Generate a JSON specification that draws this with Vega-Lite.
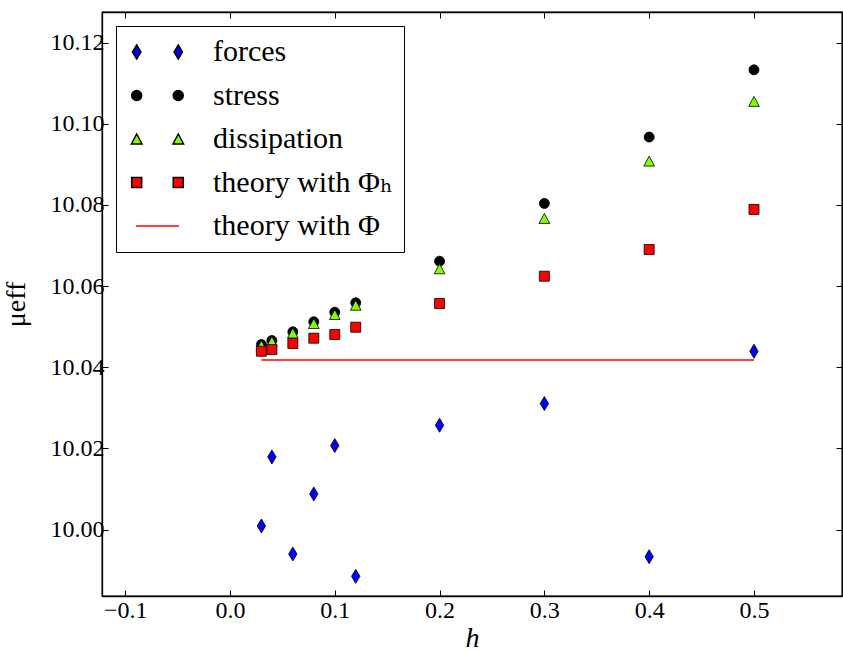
{
  "$schema": "https://vega.github.io/schema/vega-lite/v6.json",
  "width": 740,
  "height": 584,
  "autosize": {"type": "none"},
  "padding": {"left": 102, "top": 12, "right": 1, "bottom": 55},
  "background": "white",
  "config": {
    "view": {"stroke": "black", "strokeWidth": 1.3},
    "axis": {
      "grid": false,
      "domainColor": "black",
      "domainWidth": 1.3,
      "tickColor": "black",
      "tickWidth": 1,
      "tickSize": -6,
      "labelColor": "black",
      "labelFlush": false,
      "labelOverlap": false,
      "titleColor": "black",
      "titleFontWeight": "normal"
    }
  },
  "datasets": {
    "theory": [
      {"h": 0.03, "mu": 10.0418, "series": "theory with Φ"},
      {"h": 0.5, "mu": 10.0418, "series": "theory with Φ"}
    ],
    "points": [
      {"h": 0.03, "mu": 10.00091, "series": "forces"},
      {"h": 0.04, "mu": 10.01792, "series": "forces"},
      {"h": 0.06, "mu": 9.99401, "series": "forces"},
      {"h": 0.08, "mu": 10.0088, "series": "forces"},
      {"h": 0.1, "mu": 10.02071, "series": "forces"},
      {"h": 0.12, "mu": 9.98849, "series": "forces"},
      {"h": 0.2, "mu": 10.02572, "series": "forces"},
      {"h": 0.3, "mu": 10.03107, "series": "forces"},
      {"h": 0.4, "mu": 9.99334, "series": "forces"},
      {"h": 0.5, "mu": 10.04396, "series": "forces"},
      {"h": 0.03, "mu": 10.04561, "series": "stress"},
      {"h": 0.04, "mu": 10.0466, "series": "stress"},
      {"h": 0.06, "mu": 10.04875, "series": "stress"},
      {"h": 0.08, "mu": 10.05121, "series": "stress"},
      {"h": 0.1, "mu": 10.05358, "series": "stress"},
      {"h": 0.12, "mu": 10.0559, "series": "stress"},
      {"h": 0.2, "mu": 10.06615, "series": "stress"},
      {"h": 0.3, "mu": 10.08038, "series": "stress"},
      {"h": 0.4, "mu": 10.09673, "series": "stress"},
      {"h": 0.5, "mu": 10.1133, "series": "stress"},
      {"h": 0.03, "mu": 10.04537, "series": "dissipation"},
      {"h": 0.04, "mu": 10.04635, "series": "dissipation"},
      {"h": 0.06, "mu": 10.04845, "series": "dissipation"},
      {"h": 0.08, "mu": 10.05079, "series": "dissipation"},
      {"h": 0.1, "mu": 10.05301, "series": "dissipation"},
      {"h": 0.12, "mu": 10.0553, "series": "dissipation"},
      {"h": 0.2, "mu": 10.06428, "series": "dissipation"},
      {"h": 0.3, "mu": 10.07668, "series": "dissipation"},
      {"h": 0.4, "mu": 10.09081, "series": "dissipation"},
      {"h": 0.5, "mu": 10.10553, "series": "dissipation"},
      {"h": 0.03, "mu": 10.04396, "series": "theory with Φₕ"},
      {"h": 0.04, "mu": 10.04438, "series": "theory with Φₕ"},
      {"h": 0.06, "mu": 10.04586, "series": "theory with Φₕ"},
      {"h": 0.08, "mu": 10.04717, "series": "theory with Φₕ"},
      {"h": 0.1, "mu": 10.04808, "series": "theory with Φₕ"},
      {"h": 0.12, "mu": 10.04988, "series": "theory with Φₕ"},
      {"h": 0.2, "mu": 10.05572, "series": "theory with Φₕ"},
      {"h": 0.3, "mu": 10.06245, "series": "theory with Φₕ"},
      {"h": 0.4, "mu": 10.06904, "series": "theory with Φₕ"},
      {"h": 0.5, "mu": 10.0789, "series": "theory with Φₕ"}
    ]
  },
  "layer": [
    {
      "data": {"name": "theory"},
      "mark": {"type": "line", "color": "#ff0000", "strokeWidth": 1.5},
      "encoding": {
        "x": {
          "field": "h", "type": "quantitative",
          "scale": {"domain": [-0.1221, 0.584], "nice": false, "zero": false},
          "axis": {"orient": "bottom", "values": [-0.1, 0, 0.1, 0.2, 0.3, 0.4, 0.5], "format": ".1f", "labelPadding": 8, "labelFont": "Liberation Serif, Times New Roman, DejaVu Serif, serif", "labelFontSize": 24, "title": "h", "titleFont": "Liberation Serif, Times New Roman, DejaVu Serif, serif", "titleFontStyle": "italic", "titleFontSize": 28, "titlePadding": 2}
        },
        "y": {
          "field": "mu", "type": "quantitative",
          "scale": {"domain": [9.98365, 10.12755], "nice": false, "zero": false},
          "axis": {"orient": "left", "values": [10, 10.02, 10.04, 10.06, 10.08, 10.1, 10.12], "format": ".2f", "labelPadding": 4, "labelFont": "Liberation Serif, Times New Roman, DejaVu Serif, serif", "labelFontSize": 24, "title": "μeff", "titleFont": "Liberation Serif, Times New Roman, DejaVu Serif, serif", "titleFontSize": 28, "titlePadding": 20}
        }
      }
    },
    {
      "data": {"name": "points"},
      "mark": {"type": "point", "filled": true, "stroke": "black", "strokeWidth": 0.8, "size": 196, "opacity": 1},
      "encoding": {
        "x": {
          "field": "h", "type": "quantitative",
          "axis": {"orient": "top", "values": [-0.1, 0, 0.1, 0.2, 0.3, 0.4, 0.5], "labels": false, "title": null}
        },
        "y": {
          "field": "mu", "type": "quantitative",
          "axis": {"orient": "right", "values": [10, 10.02, 10.04, 10.06, 10.08, 10.1, 10.12], "labels": false, "title": null}
        },
        "color": {
          "field": "series", "type": "nominal",
          "scale": {"domain": ["forces", "stress", "dissipation", "theory with Φₕ", "theory with Φ"], "range": ["#0000ff", "#000000", "#7fff00", "#ff0000", "#ff0000"]},
          "legend": null
        },
        "shape": {
          "field": "series", "type": "nominal",
          "scale": {"domain": ["forces", "stress", "dissipation", "theory with Φₕ", "theory with Φ"], "range": ["M0,-1L0.6,0L0,1L-0.6,0Z", "M0.714,0A0.714,0.714,0,1,1,-0.714,0A0.714,0.714,0,1,1,0.714,0Z", "M0,-0.714L0.76,0.714L-0.76,0.714Z", "M-0.714,-0.714L0.714,-0.714L0.714,0.714L-0.714,0.714Z", "stroke"]},
          "legend": null
        }
      }
    },
    {
      "data": {"name": "points"},
      "mark": {
        "type": "point", "filled": true, "size": 196, "opacity": 0,
        "stroke": {"expr": "(datum.series || datum.value) === 'theory with Φ' ? '#ff0000' : '#000000'"},
        "strokeWidth": {"expr": "(datum.series || datum.value) === 'theory with Φ' ? 1.5 : 0.8"}
      },
      "encoding": {
        "x": {"field": "h", "type": "quantitative", "axis": null},
        "y": {"field": "mu", "type": "quantitative", "axis": null},
        "color": {
          "field": "series", "type": "nominal",
          "scale": {"domain": ["forces", "stress", "dissipation", "theory with Φₕ", "theory with Φ"], "range": ["#0000ff", "#000000", "#7fff00", "#ff0000", "#ff0000"]},
          "legend": {
            "title": null,
            "orient": "top-left",
            "offset": 14,
            "padding": 11,
            "fillColor": "white",
            "strokeColor": "black",
            "symbolSize": 196,
            "symbolOpacity": 1,
            "labelOffset": 56,
            "rowPadding": 13.5,
            "labelFont": "Liberation Serif, Times New Roman, DejaVu Serif, serif",
            "labelFontSize": 30,
            "labelColor": "black",
            "labelLimit": 400
          }
        },
        "shape": {
          "field": "series", "type": "nominal",
          "scale": {"domain": ["forces", "stress", "dissipation", "theory with Φₕ", "theory with Φ"], "range": ["M-0.76,-1L-0.16,0L-0.76,1L-1.36,0ZM5.18,-1L5.78,0L5.18,1L4.58,0Z", "M-0.046,0A0.714,0.714,0,1,1,-1.474,0A0.714,0.714,0,1,1,-0.046,0ZM5.894,0A0.714,0.714,0,1,1,4.466,0A0.714,0.714,0,1,1,5.894,0Z", "M-0.76,-0.714L0,0.714L-1.52,0.714ZM5.18,-0.714L5.94,0.714L4.42,0.714Z", "M-1.474,-0.714L-0.046,-0.714L-0.046,0.714L-1.474,0.714ZM4.466,-0.714L5.894,-0.714L5.894,0.714L4.466,0.714Z", "M-0.86,0L5.29,0"]},
          "legend": null
        }
      }
    }
  ],
  "resolve": {
    "axis": {"x": "independent", "y": "independent"},
    "scale": {"shape": "independent", "color": "independent"}
  }
}
